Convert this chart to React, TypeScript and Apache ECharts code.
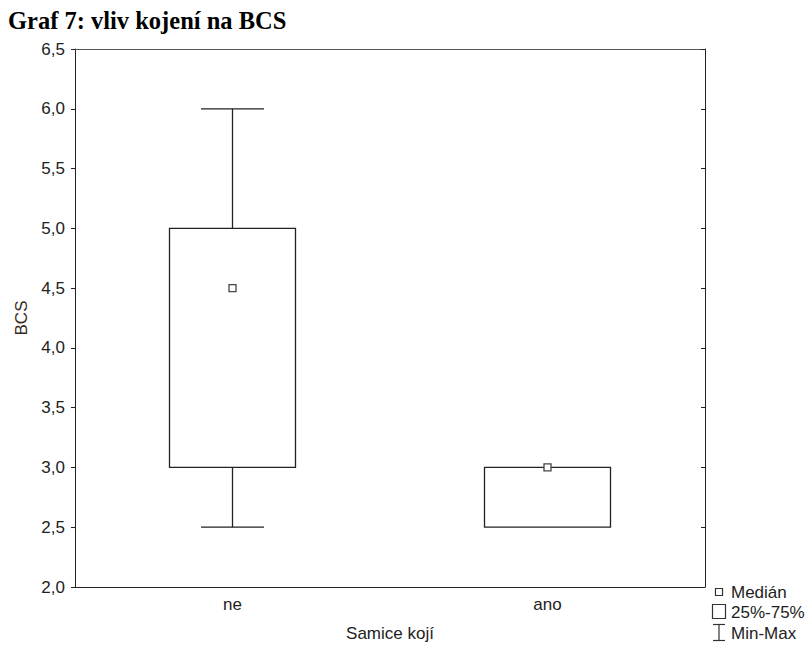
import React, { useEffect, useRef } from "react";
import * as echarts from "echarts";

const categories = ["ne", "ano"];
const minVals = [2.5, 2.5];
const q1Vals = [3.0, 2.5];
const medianVals = [4.5, 3.0];
const q3Vals = [5.0, 3.0];
const maxVals = [6.0, 3.0];
const legendLabels = ["Medián", "25%-75%", "Min-Max"];

const INK = "#222";
const FONT = "'Liberation Sans', Arial, sans-serif";

export default function App() {
  const ref = useRef<HTMLDivElement>(null);
  useEffect(() => {
    if (!ref.current) return;
    const chart = echarts.init(ref.current, null, { renderer: "svg" });
    const data = categories.map((_, i) => [i, minVals[i], q1Vals[i], medianVals[i], q3Vals[i], maxVals[i]]);
    const fmt = (v: number) => v.toFixed(1).replace(".", ",");
    chart.setOption({
      animation: false,
      backgroundColor: "#fff",
      title: {
        text: "Graf 7: vliv kojení na BCS",
        left: 8,
        top: 8,
        padding: 0,
        textStyle: { fontFamily: "'Liberation Serif', 'Times New Roman', serif", fontWeight: "bold", fontSize: 24.5, color: "#000" },
      },
      grid: { left: 75, right: 107, top: 49, bottom: 60 },
      xAxis: [
        {
          type: "category",
          data: categories,
          position: "bottom",
          axisLine: { lineStyle: { color: INK, width: 1 } },
          axisTick: { inside: true, alignWithLabel: true, length: 4, lineStyle: { color: INK } },
          axisLabel: { fontSize: 17, color: INK, fontFamily: FONT, margin: 9 },
          name: "Samice kojí",
          nameLocation: "middle",
          nameGap: 38,
          nameTextStyle: { fontSize: 17, color: INK, fontFamily: FONT },
        },
        {
          type: "category",
          data: categories,
          position: "top",
          axisLine: { lineStyle: { color: "#555", width: 1 } },
          axisTick: { inside: true, alignWithLabel: true, length: 4, lineStyle: { color: INK } },
          axisLabel: { show: false },
        },
      ],
      yAxis: [
        {
          type: "value",
          min: 2,
          max: 6.5,
          interval: 0.5,
          position: "left",
          axisLine: { show: true, lineStyle: { color: INK, width: 1 } },
          axisTick: { show: true, inside: false, length: 4, lineStyle: { color: INK } },
          splitLine: { show: false },
          axisLabel: { formatter: fmt, fontSize: 17, color: INK, fontFamily: FONT, margin: 10 },
          name: "BCS",
          nameLocation: "middle",
          nameGap: 44,
          nameRotate: 90,
          nameTextStyle: { fontSize: 17, color: "#3a2a22", fontFamily: FONT },
        },
        {
          type: "value",
          min: 2,
          max: 6.5,
          interval: 0.5,
          position: "right",
          axisLine: { show: true, lineStyle: { color: INK, width: 1 } },
          axisTick: { show: true, inside: true, length: 4, lineStyle: { color: INK } },
          splitLine: { show: false },
          axisLabel: { show: false },
        },
      ],
      series: [
        {
          type: "custom",
          xAxisIndex: 0,
          yAxisIndex: 0,
          data,
          encode: { x: 0, y: [1, 2, 3, 4, 5] },
          renderItem: (params: any, api: any) => {
            const idx = api.value(0);
            const mn = api.value(1), q1 = api.value(2), md = api.value(3), q3 = api.value(4), mx = api.value(5);
            const cx = api.coord([idx, mn])[0];
            const band = api.size([1, 0])[0];
            const boxW = band * 0.4;
            const capW = boxW * 0.5;
            const yMn = api.coord([idx, mn])[1];
            const yQ1 = api.coord([idx, q1])[1];
            const yMd = api.coord([idx, md])[1];
            const yQ3 = api.coord([idx, q3])[1];
            const yMx = api.coord([idx, mx])[1];
            const ls = { stroke: INK, lineWidth: 1.3, fill: null };
            const children: any[] = [];
            if (mx > q3) {
              children.push({ type: "line", shape: { x1: cx, y1: yQ3, x2: cx, y2: yMx }, style: ls });
              children.push({ type: "line", shape: { x1: cx - capW / 2, y1: yMx, x2: cx + capW / 2, y2: yMx }, style: ls });
            }
            if (mn < q1) {
              children.push({ type: "line", shape: { x1: cx, y1: yQ1, x2: cx, y2: yMn }, style: ls });
              children.push({ type: "line", shape: { x1: cx - capW / 2, y1: yMn, x2: cx + capW / 2, y2: yMn }, style: ls });
            }
            children.push({
              type: "rect",
              shape: { x: cx - boxW / 2, y: yQ3, width: boxW, height: yQ1 - yQ3 },
              style: { stroke: INK, lineWidth: 1.3, fill: "none" },
            });
            children.push({
              type: "rect",
              shape: { x: cx - 3.5, y: yMd - 3.5, width: 7, height: 7 },
              style: { stroke: "#444", lineWidth: 1.3, fill: "#fff" },
            });
            return { type: "group", children };
          },
        },
      ],
      graphic: [
        { type: "rect", shape: { x: 715.5, y: 588.5, width: 7, height: 7 }, style: { stroke: "#333", lineWidth: 1.2, fill: "#fff" } },
        { type: "text", x: 731, y: 592, style: { text: legendLabels[0], font: `17px ${FONT}`, fill: INK, textVerticalAlign: "middle" } },
        { type: "rect", shape: { x: 712.5, y: 604.5, width: 13, height: 14 }, style: { stroke: "#333", lineWidth: 1.2, fill: "#fff" } },
        { type: "text", x: 731, y: 612, style: { text: legendLabels[1], font: `17px ${FONT}`, fill: INK, textVerticalAlign: "middle" } },
        { type: "line", shape: { x1: 719, y1: 624.5, x2: 719, y2: 640.5 }, style: { stroke: "#333", lineWidth: 1.2 } },
        { type: "line", shape: { x1: 713, y1: 624.5, x2: 725, y2: 624.5 }, style: { stroke: "#333", lineWidth: 1.2 } },
        { type: "line", shape: { x1: 713, y1: 640.5, x2: 725, y2: 640.5 }, style: { stroke: "#333", lineWidth: 1.2 } },
        { type: "text", x: 731, y: 633, style: { text: legendLabels[2], font: `17px ${FONT}`, fill: INK, textVerticalAlign: "middle" } },
      ],
    });
    return () => chart.dispose();
  }, []);
  return <div ref={ref} style={{ position: "fixed", left: 0, top: 0, width: 812, height: 647, background: "#fff" }} />;
}
